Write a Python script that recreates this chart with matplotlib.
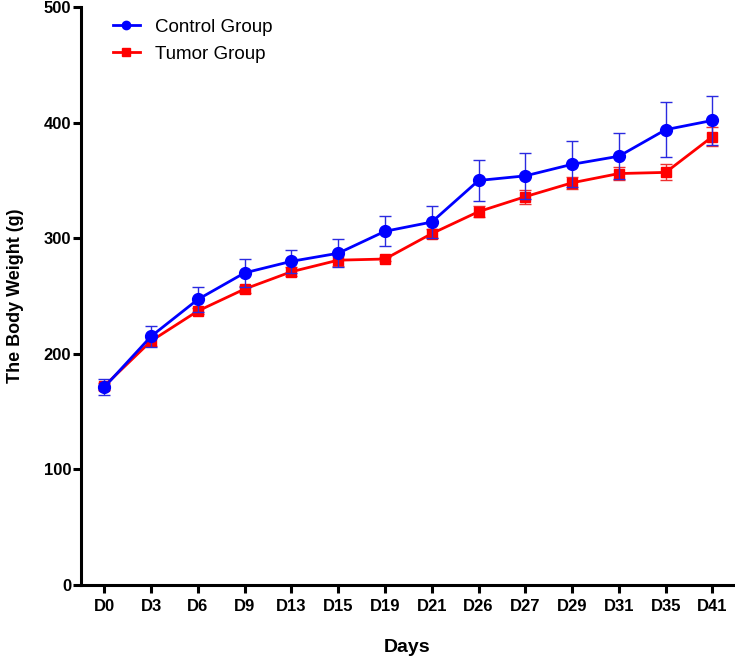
import matplotlib.pyplot as plt
from matplotlib.lines import Line2D
import numpy as np

days = ["D0", "D3", "D6", "D9", "D13", "D15", "D19", "D21",
        "D26", "D27", "D29", "D31", "D35", "D41"]

control_mean = [171, 215, 247, 270, 280, 287, 306, 314, 350, 354, 364, 371, 394, 402]
control_err = [7, 9, 11, 12, 10, 12, 13, 14, 18, 20, 20, 20, 24, 21]

tumor_mean = [172, 211, 237, 256, 271, 281, 282, 304, 323, 336, 348, 356, 357, 388]
tumor_err = [3, 4, 3, 3, 4, 5, 2, 4, 5, 6, 5, 6, 7, 8]

plt.rcParams['font.family'] = ['Liberation Sans', 'DejaVu Sans']

fig = plt.figure(figsize=(7.35, 6.57), dpi=100)
ax = fig.add_axes([0.110, 0.110, 0.888, 0.879])

x = np.arange(len(days))

ax.errorbar(x, tumor_mean, yerr=tumor_err, color='#ff0000', ecolor='#ee3030',
            marker='s', markersize=7.5, linewidth=2, elinewidth=1,
            capsize=4, capthick=1, zorder=3)
ax.errorbar(x, control_mean, yerr=control_err, color='#0000ff', ecolor='#2a2ae0',
            marker='o', markersize=8.5, linewidth=2, elinewidth=1,
            capsize=4, capthick=1, zorder=4)

ax.set_xlim(-0.5, 13.45)
ax.set_ylim(0, 500)
ax.set_yticks([0, 100, 200, 300, 400, 500])
ax.set_xticks(x)
ax.set_xticklabels(days)

for s in ['top', 'right']:
    ax.spines[s].set_visible(False)
for s in ['left', 'bottom']:
    ax.spines[s].set_linewidth(2.2)

ax.tick_params(axis='both', direction='out', length=6, width=2.2, labelsize=12)
ax.tick_params(axis='x', pad=4)
ax.tick_params(axis='y', pad=1)
for lbl in ax.get_xticklabels() + ax.get_yticklabels():
    lbl.set_fontweight('bold')

ax.set_xlabel('Days', fontsize=14, fontweight='bold', labelpad=18)
ax.set_ylabel('The Body Weight (g)', fontsize=13, fontweight='bold', labelpad=14)

handles = [
    Line2D([], [], color='#0000ff', marker='o', markersize=6, linewidth=2),
    Line2D([], [], color='#ff0000', marker='s', markersize=5.5, linewidth=2),
]
ax.legend(handles, ['Control Group', 'Tumor Group'], loc='upper left',
          bbox_to_anchor=(0.0375, 0.993), borderaxespad=0, frameon=False,
          fontsize=13.5, handlelength=1.45, handletextpad=0.8,
          labelspacing=0.53)

fig.savefig('out.png', dpi=100)
